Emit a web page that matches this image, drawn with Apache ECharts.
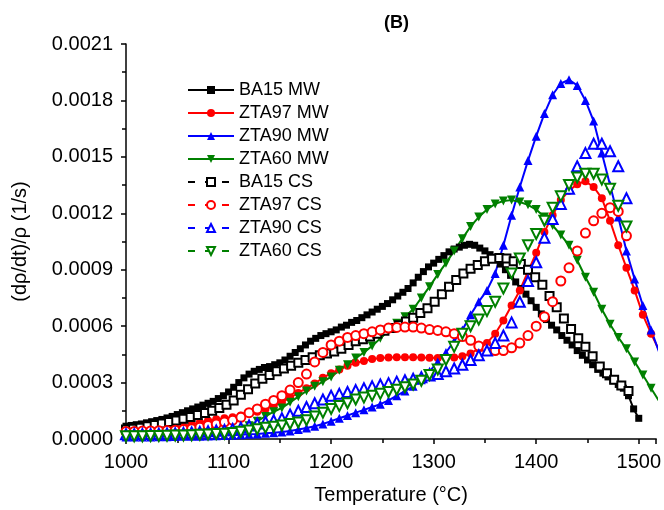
<!DOCTYPE html>
<html><head><meta charset="utf-8">
<script src="https://cdn.jsdelivr.net/npm/echarts@6/dist/echarts.min.js"></script>
<style>html,body{margin:0;padding:0;background:#fff}#c{width:664px;height:510px}</style>
</head><body><div id="c"></div>
<script>
// Temperatures (°C)
const T5 = [1000,1005,1010,1015,1020,1025,1030,1035,1040,1045,1050,1055,1060,1065,1070,1075,1080,1085,1090,1095,1100,1105,1110,1115,1120,1125,1130,1135,1140,1145,1150,1155,1160,1165,1170,1175,1180,1185,1190,1195,1200,1205,1210,1215,1220,1225,1230,1235,1240,1245,1250,1255,1260,1265,1270,1275,1280,1285,1290,1295,1300,1305,1310,1315,1320,1325,1330,1335,1340,1345,1350,1355,1360,1365,1370,1375,1380,1385,1390,1395,1400,1405,1410,1415,1420,1425,1430,1435,1440,1445,1450,1455,1460,1465,1470,1475,1480,1485,1490,1495,1500];
const T7 = [1000,1007,1014,1021,1028,1035,1042,1049,1056,1063,1070,1077,1084,1091,1098,1105,1112,1119,1126,1133,1140,1147,1154,1161,1168,1175,1182,1189,1196,1203,1210,1217,1224,1231,1238,1245,1252,1259,1266,1273,1280,1287,1294,1301,1308,1315,1322,1329,1336,1343,1350,1357,1364,1371,1378,1385,1392,1399,1406,1413,1420,1427,1434,1441,1448,1455,1462,1469,1476,1483,1490];
const T8 = [1000,1008,1016,1024,1032,1040,1048,1056,1064,1072,1080,1088,1096,1104,1112,1120,1128,1136,1144,1152,1160,1168,1176,1184,1192,1200,1208,1216,1224,1232,1240,1248,1256,1264,1272,1280,1288,1296,1304,1312,1320,1328,1336,1344,1352,1360,1368,1376,1384,1392,1400,1408,1416,1424,1432,1440,1448,1456,1464,1472,1480,1488,1496,1504,1512,1520];

// (dρ/dt)/ρ values in units of 1e-4 1/s
const BA15_MW = [0.68,0.72,0.76,0.8,0.86,0.92,0.98,1.04,1.12,1.2,1.3,1.4,1.5,1.6,1.7,1.8,1.9,2.0,2.15,2.3,2.5,2.75,3.0,3.25,3.45,3.6,3.7,3.8,3.85,3.95,4.05,4.2,4.4,4.6,4.8,5.0,5.2,5.35,5.5,5.6,5.7,5.8,5.95,6.05,6.2,6.3,6.45,6.6,6.75,6.9,7.05,7.2,7.4,7.6,7.8,8.0,8.3,8.6,8.9,9.15,9.35,9.55,9.75,9.95,10.1,10.2,10.3,10.35,10.3,10.15,10.0,9.8,9.6,9.3,9.0,8.7,8.35,8.0,7.7,7.35,7.0,6.65,6.35,6.05,5.8,5.5,5.25,5.0,4.7,4.45,4.2,3.95,3.7,3.5,3.3,3.1,2.9,2.7,2.3,1.6,1.1];
const ZTA97_MW = [0.3,0.35,0.4,0.45,0.5,0.55,0.6,0.68,0.78,0.88,0.98,1.05,1.1,1.15,1.25,1.35,1.45,1.6,1.75,1.95,2.2,2.45,2.7,2.95,3.25,3.5,3.7,3.9,4.05,4.15,4.25,4.3,4.33,4.35,4.35,4.35,4.33,4.32,4.3,4.3,4.33,4.4,4.55,4.8,5.1,5.6,6.3,7.1,7.9,8.9,9.9,11.0,11.9,12.7,13.2,13.55,13.7,13.4,12.8,11.6,10.3,9.1,7.9,6.6,5.6,4.7];
const ZTA90_MW = [0.1,0.1,0.1,0.1,0.12,0.12,0.13,0.14,0.15,0.15,0.16,0.17,0.18,0.2,0.22,0.25,0.27,0.3,0.33,0.37,0.42,0.5,0.58,0.68,0.8,0.95,1.1,1.25,1.4,1.55,1.7,1.85,2.05,2.3,2.55,2.8,3.15,3.6,4.1,4.6,5.2,5.8,6.6,7.3,7.9,8.8,10.3,11.9,13.4,14.8,16.1,17.3,18.3,18.9,19.1,18.8,18.0,16.9,15.2,13.5,11.8,10.0,8.5,7.1,5.8,4.6];
const ZTA60_MW = [0.15,0.15,0.15,0.15,0.15,0.15,0.15,0.17,0.18,0.2,0.2,0.22,0.24,0.3,0.45,0.7,0.95,1.2,1.45,1.65,1.95,2.25,2.55,2.8,3.05,3.3,3.65,3.95,4.3,4.6,4.95,5.35,5.75,6.15,6.5,6.9,7.5,8.1,8.75,9.35,10.0,10.65,11.3,11.8,12.2,12.5,12.65,12.7,12.6,12.45,12.2,11.8,11.35,10.85,10.3,9.5,8.6,7.8,6.9,6.1,5.4,4.8,4.1,3.4,2.7,2.0];
const BA15_CS = [0.5,0.55,0.6,0.68,0.75,0.82,0.9,0.98,1.07,1.17,1.27,1.38,1.5,1.65,1.82,2.05,2.35,2.65,2.95,3.2,3.4,3.6,3.75,3.9,4.05,4.2,4.35,4.45,4.55,4.65,4.8,5.0,5.2,5.3,5.45,5.6,5.75,5.9,6.05,6.25,6.45,6.7,6.95,7.3,7.7,8.1,8.45,8.8,9.05,9.25,9.45,9.58,9.62,9.6,9.45,9.3,9.0,8.6,8.2,7.6,7.0,6.4,5.85,5.35,4.9,4.4,3.85,3.5,3.15,2.85,2.55];
const ZTA97_CS = [0.4,0.4,0.42,0.43,0.44,0.45,0.47,0.5,0.55,0.62,0.72,0.8,0.9,1.0,1.15,1.4,1.6,1.85,2.05,2.3,2.6,3.0,3.45,4.1,4.6,5.0,5.2,5.4,5.5,5.6,5.7,5.8,5.9,5.93,5.95,5.95,5.9,5.82,5.77,5.7,5.6,5.45,5.25,4.95,4.8,4.7,4.7,4.85,5.1,5.5,6.0,6.5,7.3,8.4,9.1,10.0,10.95,11.6,12.0,12.3,12.1,10.8];
const ZTA90_CS = [0.25,0.25,0.26,0.27,0.28,0.29,0.3,0.32,0.35,0.38,0.41,0.45,0.48,0.53,0.6,0.72,0.82,0.92,1.0,1.1,1.3,1.5,1.7,1.9,2.1,2.3,2.4,2.5,2.6,2.7,2.8,2.9,2.97,3.05,3.12,3.2,3.28,3.37,3.45,3.6,3.75,3.95,4.2,4.45,4.7,5.1,5.5,6.2,7.3,8.4,9.4,10.7,11.7,12.5,13.3,14.5,15.2,15.7,15.7,15.3,14.5,12.8];
const ZTA60_CS = [0.15,0.15,0.15,0.16,0.16,0.17,0.18,0.19,0.2,0.22,0.24,0.26,0.28,0.32,0.38,0.45,0.52,0.6,0.65,0.72,0.8,0.88,1.0,1.2,1.4,1.6,1.75,1.9,2.1,2.2,2.3,2.4,2.5,2.62,2.75,2.9,3.1,3.4,3.7,4.2,4.9,5.6,6.0,6.35,6.8,7.3,8.0,8.8,9.6,10.3,10.9,11.6,12.3,12.9,13.5,13.9,14.1,14.1,13.8,13.3,12.4,11.3];

const UNIT = 1e-4;
const FONT = 'Arial, "Liberation Sans", sans-serif';
const COLORS = { BA15: '#000000', ZTA97: '#ff0000', ZTA90: '#0000ff', ZTA60: '#008000' };

function pairs(ts, vs) { return vs.map((v, i) => [ts[i], v * UNIT]); }

function mw(name, ts, vs, color, symbol, size, rot) {
  return { name, type: 'line', data: pairs(ts, vs), symbol, symbolSize: size, symbolRotate: rot || 0,
    showAllSymbol: true, clip: true,
    lineStyle: { color, width: 2 }, itemStyle: { color, borderWidth: 0 } };
}
function cs(name, ts, vs, color, symbol, size, rot) {
  return { name, type: 'line', data: pairs(ts, vs), symbol, symbolSize: size, symbolRotate: rot || 0,
    showAllSymbol: true, clip: true,
    lineStyle: { color, width: 0, opacity: 0 }, itemStyle: { color, borderColor: color, borderWidth: 1 } };
}
function legMW(name, color) { return { name, lineStyle: { color, width: 2, opacity: 1, type: 'solid' } }; }
function legCS(name, color) { return { name, lineStyle: { color, width: 2, opacity: 1, type: [7, 10] } }; }

const chart = echarts.init(document.getElementById('c'), null, { renderer: 'canvas' });
chart.setOption({
  animation: false,
  backgroundColor: '#fff',
  title: { text: '(B)', left: 379, top: 9, textStyle: { fontFamily: FONT, fontSize: 18, fontWeight: 'bold', color: '#000' } },
  grid: { left: 126, right: 0, top: 44, bottom: 67, containLabel: false },
  legend: {
    orient: 'vertical', left: 182, top: 76, itemWidth: 46, itemHeight: 10, itemGap: 5,
    textStyle: { fontFamily: FONT, fontSize: 18, color: '#000' },
    data: [legMW('BA15 MW', COLORS.BA15), legMW('ZTA97 MW', COLORS.ZTA97), legMW('ZTA90 MW', COLORS.ZTA90), legMW('ZTA60 MW', COLORS.ZTA60),
           legCS('BA15 CS', COLORS.BA15), legCS('ZTA97 CS', COLORS.ZTA97), legCS('ZTA90 CS', COLORS.ZTA90), legCS('ZTA60 CS', COLORS.ZTA60)]
  },
  xAxis: {
    type: 'value', min: 1000, max: 1517, interval: 100,
    name: 'Temperature (°C)', nameLocation: 'middle', nameGap: 46,
    nameTextStyle: { fontFamily: FONT, fontSize: 20, color: '#000' },
    axisLine: { lineStyle: { color: '#000', width: 1.5 } },
    axisTick: { show: true, length: 5, lineStyle: { color: '#000', width: 1.5 } },
    minorTick: { show: true, splitNumber: 2, length: 4, lineStyle: { color: '#000', width: 1.5 } },
    axisLabel: { fontFamily: FONT, fontSize: 20, color: '#000', margin: 13, formatter: v => String(v) },
    splitLine: { show: false }
  },
  yAxis: {
    type: 'value', min: 0, max: 0.0021, interval: 0.0003,
    name: '(dρ/dt)/ρ (1/s)', nameLocation: 'middle', nameGap: 96, nameRotate: 90,
    nameTextStyle: { fontFamily: FONT, fontSize: 20, color: '#000' },
    axisLine: { show: true, lineStyle: { color: '#000', width: 1.5 } },
    axisTick: { show: true, length: 5, lineStyle: { color: '#000', width: 1.5 } },
    minorTick: { show: true, splitNumber: 2, length: 4, lineStyle: { color: '#000', width: 1.5 } },
    axisLabel: { fontFamily: FONT, fontSize: 20, color: '#000', margin: 13, formatter: v => v.toFixed(4) },
    splitLine: { show: false }
  },
  series: [
    mw('BA15 MW', T5, BA15_MW, COLORS.BA15, 'rect', 7),
    mw('ZTA97 MW', T8, ZTA97_MW, COLORS.ZTA97, 'circle', 8),
    mw('ZTA90 MW', T8, ZTA90_MW, COLORS.ZTA90, 'triangle', 9),
    mw('ZTA60 MW', T8, ZTA60_MW, COLORS.ZTA60, 'triangle', 9, 180),
    cs('BA15 CS', T7, BA15_CS, COLORS.BA15, 'emptyRect', 8),
    cs('ZTA97 CS', T8, ZTA97_CS, COLORS.ZTA97, 'emptyCircle', 9),
    cs('ZTA90 CS', T8, ZTA90_CS, COLORS.ZTA90, 'emptyTriangle', 10),
    cs('ZTA60 CS', T8, ZTA60_CS, COLORS.ZTA60, 'emptyTriangle', 10, 180)
  ]
});
</script></body></html>
